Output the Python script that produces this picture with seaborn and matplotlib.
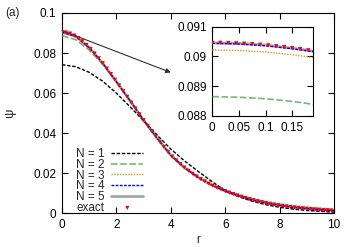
import matplotlib
matplotlib.use("Agg")
import matplotlib.pyplot as plt
import seaborn as sns
import numpy as np

# ---------------- data ----------------
r_line = [0.0, 0.5, 1.0, 1.5, 2.0, 2.5, 3.0, 3.5, 4.0, 4.5, 5.0,
          5.5, 6.0, 6.5, 7.0, 7.5, 8.0, 8.5, 9.0, 9.5, 10.0]
psi_n1 = [0.0742, 0.0732, 0.0704, 0.0659, 0.0600, 0.0532, 0.0462, 0.0390, 0.0321, 0.0262, 0.0210,
          0.0160, 0.0113, 0.0083, 0.0060, 0.0043, 0.0030, 0.0021, 0.0014, 0.0010, 0.0006]
psi_n2 = [0.08865, 0.0867, 0.0815, 0.0743, 0.0655, 0.05628, 0.04650, 0.03746, 0.02900, 0.02281, 0.01795,
          0.01410, 0.01110, 0.00873, 0.00670, 0.00514, 0.00394, 0.00302, 0.00232, 0.00178, 0.00137]
psi_n3 = [0.09022, 0.0881, 0.0826, 0.07491, 0.06572, 0.05628, 0.04650, 0.03746, 0.02900, 0.02281, 0.01795,
          0.01410, 0.01110, 0.00873, 0.00670, 0.00514, 0.00394, 0.00302, 0.00232, 0.00178, 0.00137]
psi_n4 = [0.09044, 0.08833, 0.08270, 0.07491, 0.06572, 0.05628, 0.04650, 0.03746, 0.02900, 0.02281, 0.01795,
          0.01410, 0.01110, 0.00873, 0.00670, 0.00514, 0.00394, 0.00302, 0.00232, 0.00178, 0.00137]
psi_n5 = [0.09046, 0.08835, 0.08271, 0.07491, 0.06572, 0.05628, 0.04650, 0.03746, 0.02900, 0.02281, 0.01795,
          0.01410, 0.01110, 0.00873, 0.00670, 0.00514, 0.00394, 0.00302, 0.00232, 0.00178, 0.00137]

r_exact = [0.00, 0.15, 0.30, 0.45, 0.60, 0.75, 0.90, 1.05, 1.20, 1.35,
           1.50, 1.65, 1.80, 1.95, 2.10, 2.25, 2.40, 2.55, 2.70, 2.85,
           3.00, 3.15, 3.30, 3.45, 3.60, 3.75, 3.90, 4.05, 4.20, 4.35,
           4.50, 4.65, 4.80, 4.95, 5.10, 5.25, 5.40, 5.55, 5.70, 5.85,
           6.00, 6.15, 6.30, 6.45, 6.60, 6.75, 6.90, 7.05, 7.20, 7.35,
           7.50, 7.65, 7.80, 7.95, 8.10, 8.25, 8.40, 8.55, 8.70, 8.85,
           9.00, 9.15, 9.30, 9.45, 9.60, 9.75, 9.90]
psi_exact = [0.09046, 0.09027, 0.08972, 0.08876, 0.08746, 0.08589, 0.08406, 0.08201, 0.07977, 0.07740,
             0.07491, 0.07224, 0.06948, 0.06666, 0.06382, 0.06097, 0.05815, 0.05528, 0.05231, 0.04937,
             0.04650, 0.04369, 0.04096, 0.03832, 0.03569, 0.03311, 0.03064, 0.02831, 0.02635, 0.02452,
             0.02281, 0.02123, 0.01975, 0.01838, 0.01710, 0.01592, 0.01481, 0.01378, 0.01282, 0.01193,
             0.01110, 0.01033, 0.00961, 0.00895, 0.00828, 0.00765, 0.00706, 0.00652, 0.00602, 0.00556,
             0.00514, 0.00475, 0.00438, 0.00405, 0.00374, 0.00345, 0.00319, 0.00295, 0.00272, 0.00251,
             0.00232, 0.00214, 0.00198, 0.00183, 0.00169, 0.00156, 0.00144]

# inset (zoom near r = 0)
r_inset_line = [0.0, 0.05, 0.10, 0.15, 0.19]
inset_n1 = [0.0742, 0.0742, 0.0742, 0.0742, 0.0742]
inset_n2 = [0.08865, 0.08863, 0.08858, 0.08849, 0.08839]
inset_n3 = [0.09022, 0.09020, 0.09015, 0.09006, 0.08996]
inset_n4 = [0.09044, 0.09042, 0.09036, 0.09026, 0.09016]
inset_n5 = [0.09046, 0.09044, 0.09038, 0.09028, 0.09018]
r_inset_exact = [0.0, 0.015, 0.03, 0.045, 0.06, 0.075, 0.09, 0.105, 0.12, 0.135, 0.15, 0.165, 0.18]
inset_exact = [0.090460, 0.090458, 0.090453, 0.090444, 0.090432, 0.090416, 0.090397,
               0.090374, 0.090348, 0.090318, 0.090285, 0.090248, 0.090207]

series_labels = ["N = 1", "N = 2", "N = 3", "N = 4", "N = 5"]
x_ticks = [0, 2, 4, 6, 8, 10]
y_ticks = [0, 0.02, 0.04, 0.06, 0.08, 0.1]
y_tick_labels = ["0", "0.02", "0.04", "0.06", "0.08", "0.1"]
ix_ticks = [0, 0.05, 0.1, 0.15]
ix_tick_labels = ["0", "0.05", "0.1", "0.15"]
iy_ticks = [0.088, 0.089, 0.09, 0.091]
iy_tick_labels = ["0.088", "0.089", "0.09", "0.091"]

# ---------------- style ----------------
sns.set_style("ticks")
plt.rcParams["font.family"] = ["Liberation Sans", "DejaVu Sans"]
plt.rcParams["font.size"] = 8.5

styles = [
    dict(color="black", lw=1.0, ls=(0, (2.5, 1.2)), zorder=3),
    dict(color="#3d9a3d", lw=1.2, ls=(0, (4, 1.5)), zorder=3, alpha=0.7),
    dict(color="#d49a1a", lw=1.0, ls=(0, (1, 1)), zorder=3),
    dict(color="#0000ff", lw=1.0, ls=(0, (2, 1)), zorder=4),
    dict(color="#a6a6a6", lw=2.0, ls="-", zorder=2),
]
FS = 8.5

fig = plt.figure(figsize=(3.53, 2.47), dpi=100)
ax = fig.add_axes([0.1756, 0.1364, 0.7706, 0.8110])

main_series = [psi_n1, psi_n2, psi_n3, psi_n4, psi_n5]
for lab, ys, st in zip(series_labels, main_series, styles):
    sns.lineplot(x=r_line, y=ys, ax=ax, label=lab, color=st["color"], linewidth=st["lw"],
                 linestyle=st["ls"], zorder=st["zorder"], alpha=st.get("alpha", 1.0))
sns.scatterplot(x=r_exact, y=psi_exact, ax=ax, marker="v", color="red", s=9,
                edgecolor="none", linewidth=0, label="exact", zorder=5)

ax.set_xlim(0, 10)
ax.set_ylim(0, 0.1)
ax.set_xticks(x_ticks)
ax.set_xticklabels([str(t) for t in x_ticks])
ax.set_yticks(y_ticks)
ax.set_yticklabels(y_tick_labels)
ax.tick_params(direction="in", top=True, right=True, length=4, width=0.8,
               labelsize=FS, pad=4, colors="black")
for sp in ax.spines.values():
    sp.set_visible(True)
    sp.set_linewidth(0.8)
    sp.set_color("black")
ax.set_xlabel("r", fontsize=FS)
ax.set_ylabel("ψ", fontsize=9.5, rotation=90)
ax.xaxis.set_label_coords(0.5, -0.105)
ax.yaxis.set_label_coords(-0.17, 0.5)

ax.annotate("", xy=(4.0, 0.0703), xytext=(0.0, 0.0912),
            arrowprops=dict(arrowstyle="-|>", color="#303030", lw=0.8,
                            mutation_scale=7, shrinkA=0, shrinkB=0))

handles, labels = ax.get_legend_handles_labels()
order = [labels.index(l) for l in series_labels + ["exact"]]
ax.legend([handles[i] for i in order], [labels[i] for i in order],
          loc="lower left", bbox_to_anchor=(0.02, -0.045), frameon=False,
          markerfirst=False, handlelength=2.7, handletextpad=0.6,
          labelspacing=-0.1, borderpad=0.2, fontsize=FS, markerscale=1.0)

fig.text(13 / 353, 1 - 13 / 247, "(a)", ha="center", va="center", fontsize=FS)

# ---------------- inset ----------------
axin = fig.add_axes([0.6014, 0.5304, 0.2867, 0.3615])
inset_series = [inset_n1, inset_n2, inset_n3, inset_n4, inset_n5]
for ys, st in zip(inset_series, styles):
    sns.lineplot(x=r_inset_line, y=ys, ax=axin, color=st["color"], linewidth=st["lw"],
                 linestyle=st["ls"], zorder=st["zorder"], alpha=st.get("alpha", 1.0))
sns.scatterplot(x=r_inset_exact, y=inset_exact, ax=axin, marker="v", color="red", s=9,
                edgecolor="none", linewidth=0, zorder=5)
axin.set_xlim(0, 0.19)
axin.set_ylim(0.088, 0.091)
axin.set_xticks(ix_ticks)
axin.set_xticklabels(ix_tick_labels)
axin.set_yticks(iy_ticks)
axin.set_yticklabels(iy_tick_labels)
axin.tick_params(direction="in", top=True, right=True, length=4, width=0.8,
                 labelsize=FS, pad=4, colors="black")
for sp in axin.spines.values():
    sp.set_visible(True)
    sp.set_linewidth(0.8)
    sp.set_color("black")
axin.set_xlabel("")
axin.set_ylabel("")
if axin.get_legend() is not None:
    axin.get_legend().remove()

fig.savefig("out.png", dpi=100)
